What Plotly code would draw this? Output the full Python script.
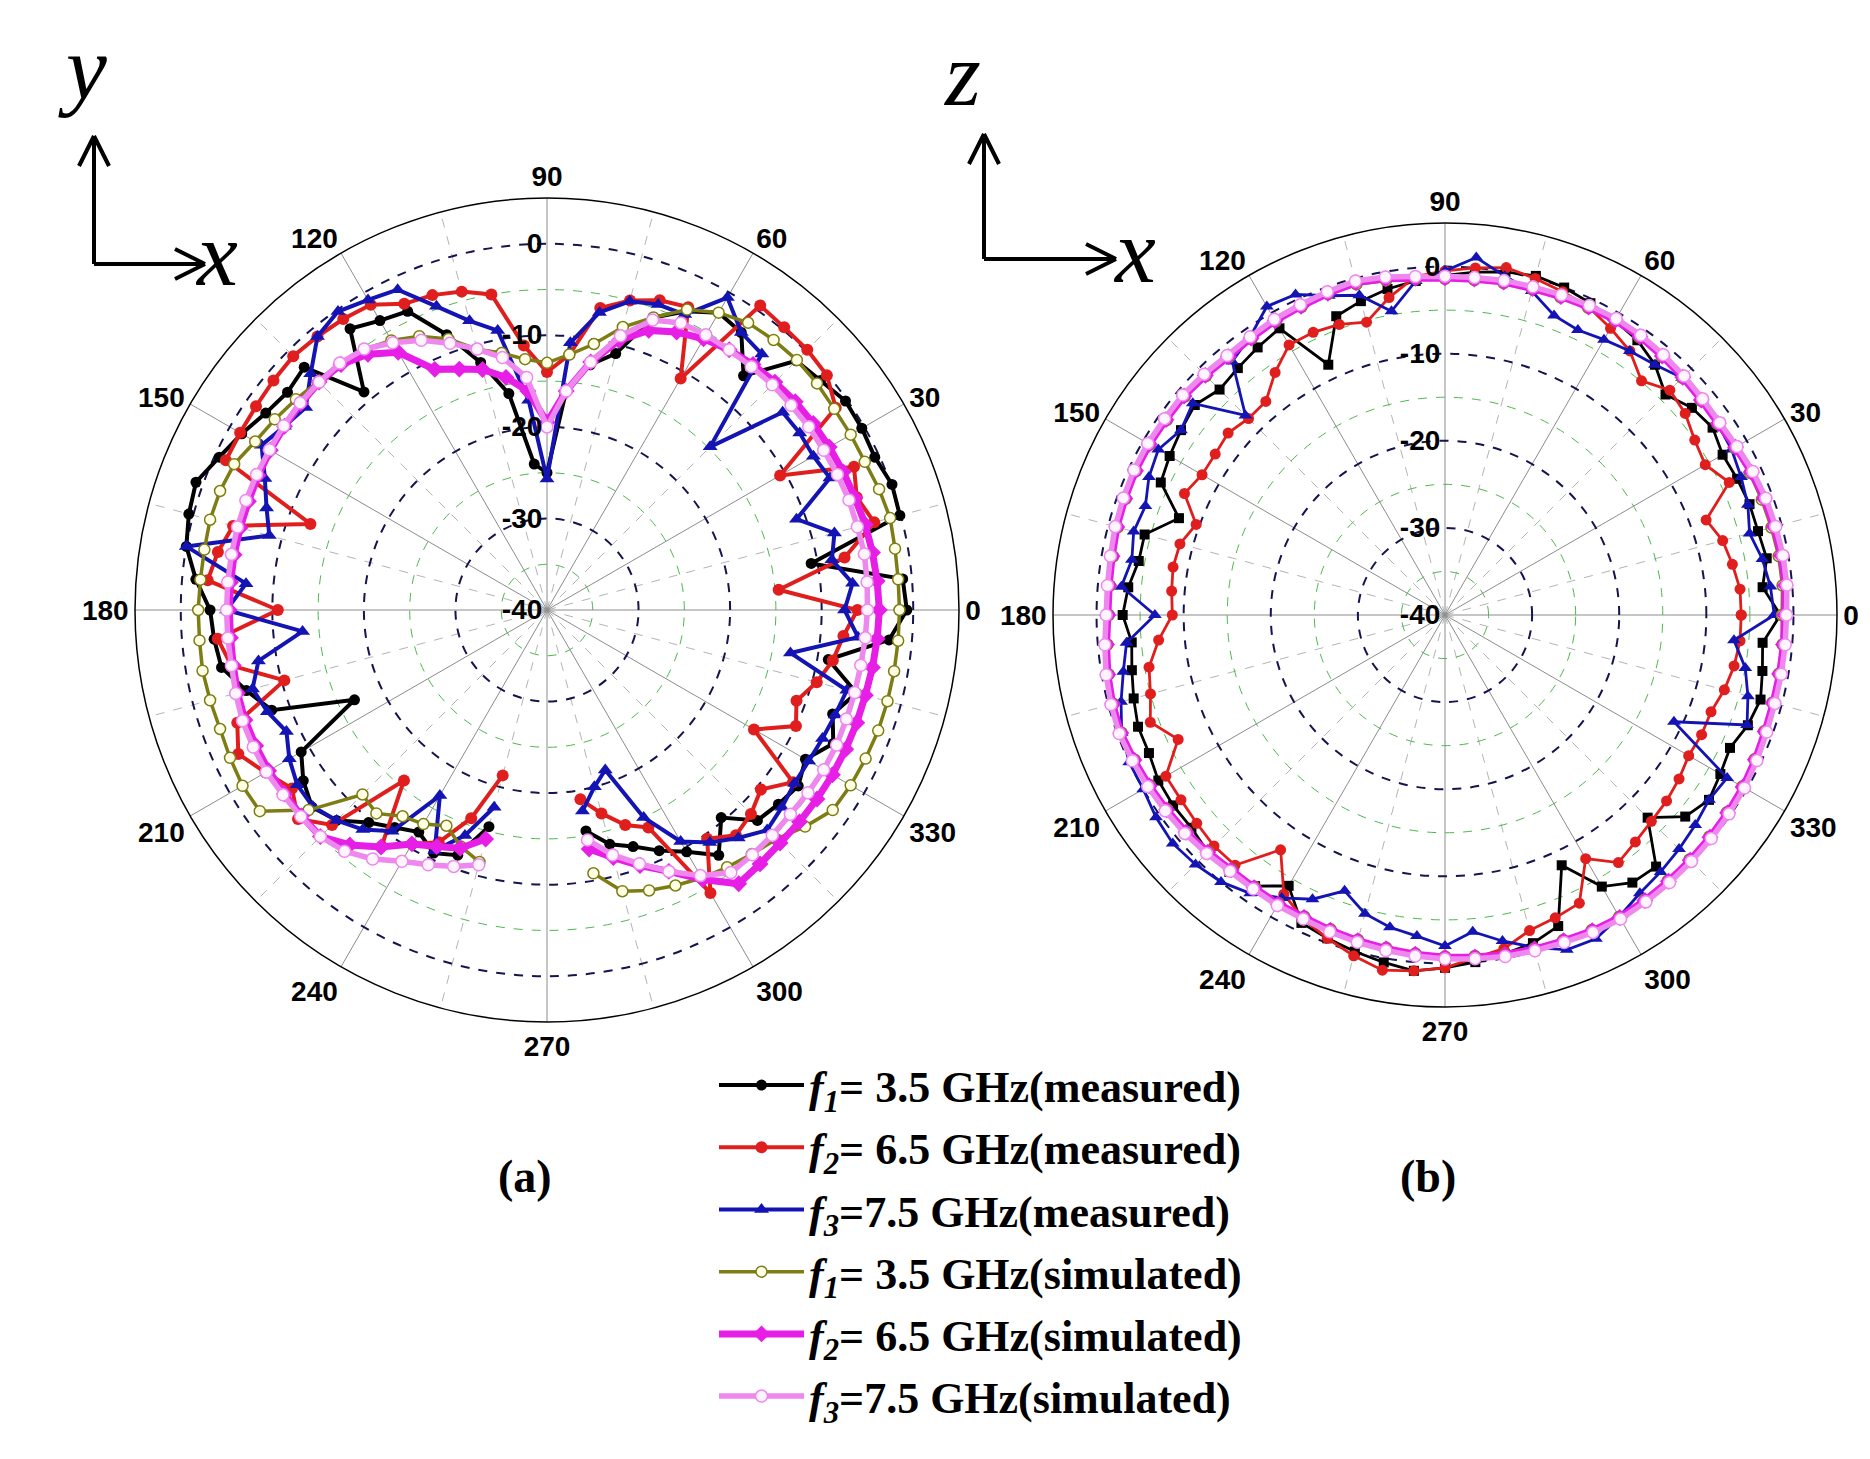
import plotly.graph_objects as go

W, H = 1870, 1459

# ---------------- data ----------------
# (a) x-y plane: angles 280..355 then 0..255 (gap around 260-275 deg)
ANG_A = list(range(280, 360, 5)) + list(range(0, 260, 5))
# (b) x-z plane: full circle
ANG_B = list(range(0, 360, 5))

A_F1_MEAS = [-15.5, -13.5, -12.5, -11.0, -9.5, -7.3, -10.4, -7.5, -7.0, -6.5, -7.4, -5.5, -6.8, -5.0, -8.8, -2.5,
             -0.7, -1.0, -10.7, -0.1, 0.1, -0.5, -0.3, -0.2, -1.0, -1.5, -6.6, -3.0, -2.5, -4.0, -6.0, -11.0,
             -12.8, -16.0, -25.0, -24.0, -16.0, -12.0, -8.0, -4.0, -3.5, -2.5, -8.9, -2.5, -3.0, -2.5, -1.5, -0.5,
             0.8, 0.5, 0.0, -1.5, -3.2, -3.5, -3.9, -6.0, -8.0, -16.8, -9.0, -7.5, -6.5, -7.5, -9.7, -11.0,
             -12.0, -10.7, -11.5, -15.5]
A_F2_MEAS = [-19.0, -17.0, -15.0, -13.8, -4.3, -9.5, -7.9, -8.5, -9.5, -7.2, -13.9, -10.0, -11.0, -9.5, -8.3, -7.5,
             -6.1, -14.6, -7.0, -3.0, -4.0, -3.0, -10.6, -1.5, -0.1, 0.2, 0.3, 0.6, -10.8, -3.5, -4.0, -5.0,
             -6.5, -12.0, -14.0, -11.0, -5.0, -4.0, -3.4, -3.1, -1.5, -1.2, -1.0, -0.8, -1.0, -1.2, -1.3, -1.3,
             -12.5, -4.5, -3.5, -2.8, -10.6, -3.9, -5.0, -10.3, -4.0, -2.8, -4.5, -6.0, -4.5, -6.8, -15.7, -8.5,
             -10.5, -12.0, -15.8, -21.3]
A_F3_MEAS = [-17.7, -20.0, -21.4, -15.0, -10.8, -9.0, -7.5, -6.0, -6.5, -7.0, -7.0, -6.8, -6.5, -6.1, -13.0, -5.9,
             -7.5, -6.5, -8.4, -7.5, -11.0, -5.9, -6.4, -6.3, -6.4, -14.8, -3.5, -3.0, -0.6, -4.4, -4.5, -5.1,
             -7.0, -10.7, -25.7, -17.0, -9.0, -7.3, -4.7, -1.4, -0.9, -0.2, -1.0, -3.5, -5.6, -5.0, -4.0, -6.0,
             -7.4, -8.6, 0.0, -7.0, -5.0, -13.2, -8.0, -6.7, -7.5, -8.6, -7.5, -6.7, -6.6, -7.5, -8.7, -10.5,
             -16.6, -11.0, -13.8, -17.7]
A_F1_SIM = [-10.8, -8.2, -7.4, -6.8, -6.2, -5.7, -5.2, -4.6, -3.2, -1.9, -1.7, -1.6, -1.5, -1.5, -1.5, -1.5,
            -1.5, -1.5, -1.4, -1.2, -1.4, -1.7, -1.7, -1.7, -1.5, -1.4, -1.5, -1.7, -2.5, -3.8, -6.0, -8.0,
            -10.5, -12.0, -13.0, -12.5, -11.5, -10.5, -8.5, -7.0, -6.0, -5.2, -4.8, -4.7, -4.2, -3.7, -3.2, -2.3,
            -2.0, -1.9, -2.0, -2.0, -1.9, -1.9, -1.8, -1.9, -2.0, -1.8, -1.6, -1.7, -6.0, -11.5, -11.0, -12.5,
            -13.0, -14.0, -12.5, -11.5]
A_F2_SIM = [-13.5, -12.0, -10.3, -8.5, -6.0, -3.5, -3.8, -4.0, -4.0, -4.0, -4.0, -4.0, -4.0, -4.0, -3.9, -3.8,
            -3.7, -3.8, -3.9, -4.0, -4.2, -4.3, -4.4, -4.5, -4.6, -4.8, -5.0, -5.3, -5.8, -6.5, -7.5, -9.5,
            -12.5, -16.0, -19.5, -16.0, -14.2, -12.8, -12.0, -11.0, -7.5, -5.9, -5.0, -4.8, -4.9, -5.0, -5.1, -5.2,
            -5.3, -5.3, -5.3, -5.3, -5.3, -5.3, -5.2, -5.0, -4.9, -4.9, -4.9, -5.0, -5.0, -5.0, -6.5, -8.4,
            -10.5, -11.5, -12.3, -14.1]
A_F3_SIM = [-14.5, -12.3, -10.5, -8.5, -6.5, -5.0, -5.1, -5.2, -5.3, -5.2, -5.1, -5.1, -5.2, -5.2, -5.2, -5.1,
            -5.0, -4.9, -4.8, -4.9, -4.9, -5.0, -5.1, -5.1, -5.2, -5.2, -5.3, -5.3, -5.3, -5.4, -6.3, -9.0,
            -12.5, -16.0, -20.0, -14.5, -12.0, -10.5, -9.0, -7.5, -6.3, -5.2, -4.8, -4.8, -4.8, -4.9, -5.0, -5.0,
            -5.0, -5.0, -5.0, -5.0, -5.0, -5.0, -5.0, -4.8, -4.6, -4.6, -4.6, -4.8, -4.9, -5.0, -5.6, -6.8,
            -8.3, -9.3, -10.2, -11.2]

B_F1_MEAS = [-1.5, -3.4, -2.5, -2.8, -2.8, -3.0, -3.2, -2.5, -3.0, -4.2, -2.5, -1.5, -1.0, -0.5, 0.0, 0.3,
             0.0, -0.5, -1.0, -1.5, -2.0, -2.7, -3.5, -8.3, -2.0, -2.5, -3.0, -3.4, -2.5, -3.0, -3.5, -4.0,
             -7.5, -4.3, -4.3, -3.5, -3.0, -3.9, -3.5, -3.0, -2.5, -2.5, -2.0, -1.9, -2.0, -1.5, -1.5, -2.0,
             -4.1, -1.0, -0.5, 0.0, 0.5, 1.0, 0.5, 0.0, -0.5, -1.0, -2.0, -8.3, -4.0, -2.5, -2.3, -7.1,
             -4.0, -3.0, -3.5, -3.9, -3.0, -2.5, -3.0, -3.4]
B_F2_MEAS = [-6.0, -6.0, -6.5, -7.0, -8.1, -4.0, -5.5, -5.0, -4.0, -3.5, -4.9, -3.0, -2.0, -1.0, -0.5, 0.0,
             0.5, 0.0, -0.5, -1.0, -3.0, -5.2, -4.5, -4.2, -4.2, -6.0, -8.0, -8.1, -7.5, -7.8, -7.8, -7.0,
             -9.6, -8.5, -8.3, -8.5, -8.7, -7.0, -5.5, -5.0, -4.0, -6.2, -3.0, -3.0, -2.8, -2.5, -2.5, -7.1,
             -3.0, -1.5, -0.5, 0.5, 1.4, 1.0, 0.5, -0.5, -1.1, -2.5, -3.0, -3.5, -7.7, -5.3, -6.0, -6.5,
             -6.8, -7.2, -7.7, -7.5, -7.5, -6.8, -6.3, -6.0]
B_F3_MEAS = [-2.2, -2.5, -3.0, -3.8, -3.0, -2.5, -2.0, -1.8, -1.5, -1.5, -2.5, -3.0, -3.5, -3.9, -3.4, -1.5,
             -0.5, 1.2, -0.5, -1.5, -4.6, -2.0, -1.0, 0.6, 0.9, -1.0, -2.0, -7.6, -2.2, -3.0, -2.0, -2.5,
             -3.4, -3.0, -3.5, -2.7, -6.7, -3.3, -2.5, -1.5, -0.5, 0.0, 0.0, 0.5, 0.8, 0.5, 0.0, -1.0,
             -2.5, -4.0, -6.3, -4.5, -3.6, -3.0, -2.0, -3.5, -2.0, -0.5, 0.9, 1.0, 0.0, -1.0, -1.5, -2.0,
             -2.5, -3.0, -2.6, -11.0, -3.1, -4.0, -5.0, -6.7]
B_F1_SIM = [-1.3, -1.1, -1.1, -1.2, -1.3, -1.4, -1.6, -1.8, -1.7, -1.5, -1.3, -1.1, -1.0, -1.1, -1.2, -1.3,
            -1.3, -1.4, -1.4, -1.3, -1.0, -0.7, -0.8, -1.0, -1.1, -1.3, -1.4, -1.2, -1.0, -1.0, -0.9, -0.9,
            -1.0, -1.1, -1.3, -1.4, -1.4, -1.1, -0.8, -0.6, -0.5, -0.7, -0.9, -1.1, -1.3, -1.6, -1.9, -1.9,
            -1.8, -1.8, -1.6, -1.4, -1.2, -1.0, -0.8, -0.7, -0.5, -0.4, -0.3, -0.1, 0.0, -0.1, -0.2, -0.3,
            -0.4, -0.5, -0.6, -0.8, -1.0, -1.1, -1.1, -1.1]
B_F2_SIM = [-1.0, -0.8, -0.8, -0.9, -1.0, -1.2, -1.5, -1.7, -1.6, -1.4, -1.2, -1.0, -0.9, -1.0, -1.1, -1.2,
            -1.2, -1.3, -1.3, -1.2, -0.8, -0.5, -0.7, -0.9, -1.0, -1.2, -1.3, -1.1, -0.9, -0.9, -0.8, -0.8,
            -0.9, -1.0, -1.2, -1.3, -1.3, -1.0, -0.7, -0.5, -0.4, -0.6, -0.8, -1.0, -1.2, -1.5, -1.8, -1.8,
            -1.7, -1.7, -1.5, -1.3, -1.1, -0.9, -0.7, -0.6, -0.4, -0.3, -0.2, 0.0, 0.1, 0.0, -0.1, -0.2,
            -0.3, -0.4, -0.5, -0.7, -0.9, -1.0, -1.0, -1.0]
B_F3_SIM = [-0.8, -0.6, -0.6, -0.7, -0.8, -1.0, -1.3, -1.5, -1.4, -1.2, -1.0, -0.8, -0.7, -0.8, -0.9, -1.0,
            -1.0, -1.1, -1.1, -1.0, -0.6, -0.3, -0.5, -0.7, -0.8, -1.0, -1.1, -0.9, -0.7, -0.7, -0.6, -0.6,
            -0.7, -0.8, -1.0, -1.1, -1.1, -0.8, -0.5, -0.3, -0.2, -0.4, -0.6, -0.8, -1.0, -1.3, -1.6, -1.6,
            -1.5, -1.5, -1.3, -1.1, -0.9, -0.7, -0.5, -0.4, -0.2, -0.1, 0.0, 0.2, 0.3, 0.2, 0.1, 0.0,
            -0.1, -0.2, -0.3, -0.5, -0.7, -0.8, -0.8, -0.8]

RADIAL_TICKS = [-40, -30, -20, -10, 0]
RADIAL_MINOR = [-35, -25, -15, -5]
ANG_TICKS = list(range(0, 360, 30))
ANG_MINOR = list(range(15, 360, 30))

NAMES = ["<i>f<sub>1</sub></i>= 3.5 GHz(measured)",
         "<i>f<sub>2</sub></i>= 6.5 GHz(measured)",
         "<i>f<sub>3</sub></i>=7.5 GHz(measured)",
         "<i>f<sub>1</sub></i>= 3.5 GHz(simulated)",
         "<i>f<sub>2</sub></i>= 6.5 GHz(simulated)",
         "<i>f<sub>3</sub></i>=7.5 GHz(simulated)"]

# ---------------- styles ----------------
STYLES = [
    dict(line=dict(color="#000000", width=4), marker=dict(symbol="circle", size=11, color="#000000")),
    dict(line=dict(color="#e01e1e", width=4), marker=dict(symbol="circle", size=12, color="#e01e1e")),
    dict(line=dict(color="#1414b4", width=4), marker=dict(symbol="triangle-up", size=13, color="#1414b4")),
    dict(line=dict(color="#7d7d14", width=3.5), marker=dict(symbol="circle", size=11, color="#ffffe6",
                                                            line=dict(color="#7d7d14", width=1.5))),
    dict(line=dict(color="#e61ee6", width=7), marker=dict(symbol="diamond", size=13, color="#e61ee6")),
    dict(line=dict(color="#ee88ee", width=5.5), marker=dict(symbol="circle", size=12, color="#fff4ff",
                                                            line=dict(color="#ee88ee", width=1.5))),
]


def px(x, y):
    return x / W, 1 - y / H


def dom(cx, cy, r):
    return dict(x=[(cx - r) / W, (cx + r) / W], y=[1 - (cy + r) / H, 1 - (cy - r) / H])


fig = go.Figure()

# empty traces so that the under-layer grid subplots get drawn
for sp in ("polar", "polar3"):
    fig.add_trace(go.Scatterpolar(r=[], theta=[], subplot=sp, showlegend=False, hoverinfo="skip"))

series_a = [A_F1_MEAS, A_F2_MEAS, A_F3_MEAS, A_F1_SIM, A_F2_SIM, A_F3_SIM]
series_b = [B_F1_MEAS, B_F2_MEAS, B_F3_MEAS, B_F1_SIM, B_F2_SIM, B_F3_SIM]

for i, (vals, st) in enumerate(zip(series_a, STYLES)):
    fig.add_trace(go.Scatterpolar(r=vals, theta=ANG_A, mode="lines+markers", name=NAMES[i],
                                  legendgroup=f"g{i}", subplot="polar2",
                                  line=st["line"], marker=st["marker"]))

for i, (vals, st) in enumerate(zip(series_b, STYLES)):
    mk = dict(st["marker"])
    if i == 0:
        mk["symbol"] = "square"
    ln = dict(st["line"])
    if i < 3:
        ln["width"] = 2.8
        mk["size"] = mk["size"] - 1
    fig.add_trace(go.Scatterpolar(r=vals + vals[:1], theta=ANG_B + [360], mode="lines+markers",
                                  name=NAMES[i], legendgroup=f"g{i}", showlegend=False,
                                  subplot="polar4", line=ln, marker=mk))

TICKFONT = dict(family="Liberation Sans", size=28, color="black", weight="bold")


def grid_layer(domain):
    return dict(
        domain=domain, bgcolor="white",
        radialaxis=dict(range=[-40, 5], tickvals=RADIAL_MINOR, showticklabels=False, ticks="",
                        showline=False, gridcolor="#4cb84c", griddash="dash", gridwidth=1),
        angularaxis=dict(tickvals=ANG_MINOR, showticklabels=False, ticks="", showline=False,
                         gridcolor="#b4b4b4", griddash="dash", gridwidth=1,
                         direction="counterclockwise", rotation=0),
    )


def main_layer(domain):
    return dict(
        domain=domain, bgcolor="rgba(0,0,0,0)",
        radialaxis=dict(range=[-40, 5], tickvals=RADIAL_TICKS, ticktext=[str(v) for v in RADIAL_TICKS],
                        angle=90, tickangle=90, side="counterclockwise", ticks="", showline=False,
                        gridcolor="#141450", griddash="dash", gridwidth=1.5, tickfont=TICKFONT),
        angularaxis=dict(tickvals=ANG_TICKS, ticktext=[str(v) for v in ANG_TICKS], ticks="",
                         showline=True, linecolor="black", linewidth=1.5,
                         gridcolor="#8c8c8c", gridwidth=1, tickfont=TICKFONT,
                         direction="counterclockwise", rotation=0),
    )


dom_a = dom(539, 602, 412)
dom_b = dom(1437, 607, 392)

shapes = []


def seg(x0, y0, x1, y1):
    a = px(x0, y0)
    b = px(x1, y1)
    shapes.append(dict(type="line", xref="paper", yref="paper", x0=a[0], y0=a[1], x1=b[0], y1=b[1],
                       line=dict(color="black", width=4)))


# coordinate indicators
for (ox, oy, tipy, tipx) in [(86, 256, 128, 197), (976, 251, 126, 1108)]:
    seg(ox, oy, ox, tipy)
    seg(ox, tipy, ox - 15, tipy + 30)
    seg(ox, tipy, ox + 15, tipy + 30)
    seg(ox, oy, tipx, oy)
    seg(tipx, oy, tipx - 30, oy - 15)
    seg(tipx, oy, tipx - 30, oy + 15)

annotations = []


def label(text, x, y, size, italic=False, bold=False, family="Liberation Serif"):
    ax, ay = px(x, y)
    annotations.append(dict(text=text, x=ax, y=ay, xref="paper", yref="paper", showarrow=False,
                            xanchor="center", yanchor="middle",
                            font=dict(family=family, size=size, color="black",
                                      style="italic" if italic else "normal",
                                      weight="bold" if bold else "normal")))


label("y", 74, 60, 92, italic=True)
label("x", 208, 246, 92, italic=True)
label("z", 954, 66, 92, italic=True)
label("x", 1126, 243, 92, italic=True)
label("(a)", 517, 1168, 46, bold=True)
label("(b)", 1420, 1168, 46, bold=True)

fig.update_layout(
    width=W, height=H,
    margin=dict(l=0, r=0, t=0, b=0),
    paper_bgcolor="white",
    polar=grid_layer(dom_a),
    polar2=main_layer(dom_a),
    polar3=grid_layer(dom_b),
    polar4=main_layer(dom_b),
    shapes=shapes,
    annotations=annotations,
    showlegend=True,
    legend=dict(x=706 / W, y=1 - 1042 / H, xanchor="left", yanchor="top",
                bgcolor="rgba(0,0,0,0)", itemwidth=85, tracegroupgap=2,
                font=dict(family="Liberation Serif", size=44, color="black", weight="bold")),
)

fig.write_html("out.html")
